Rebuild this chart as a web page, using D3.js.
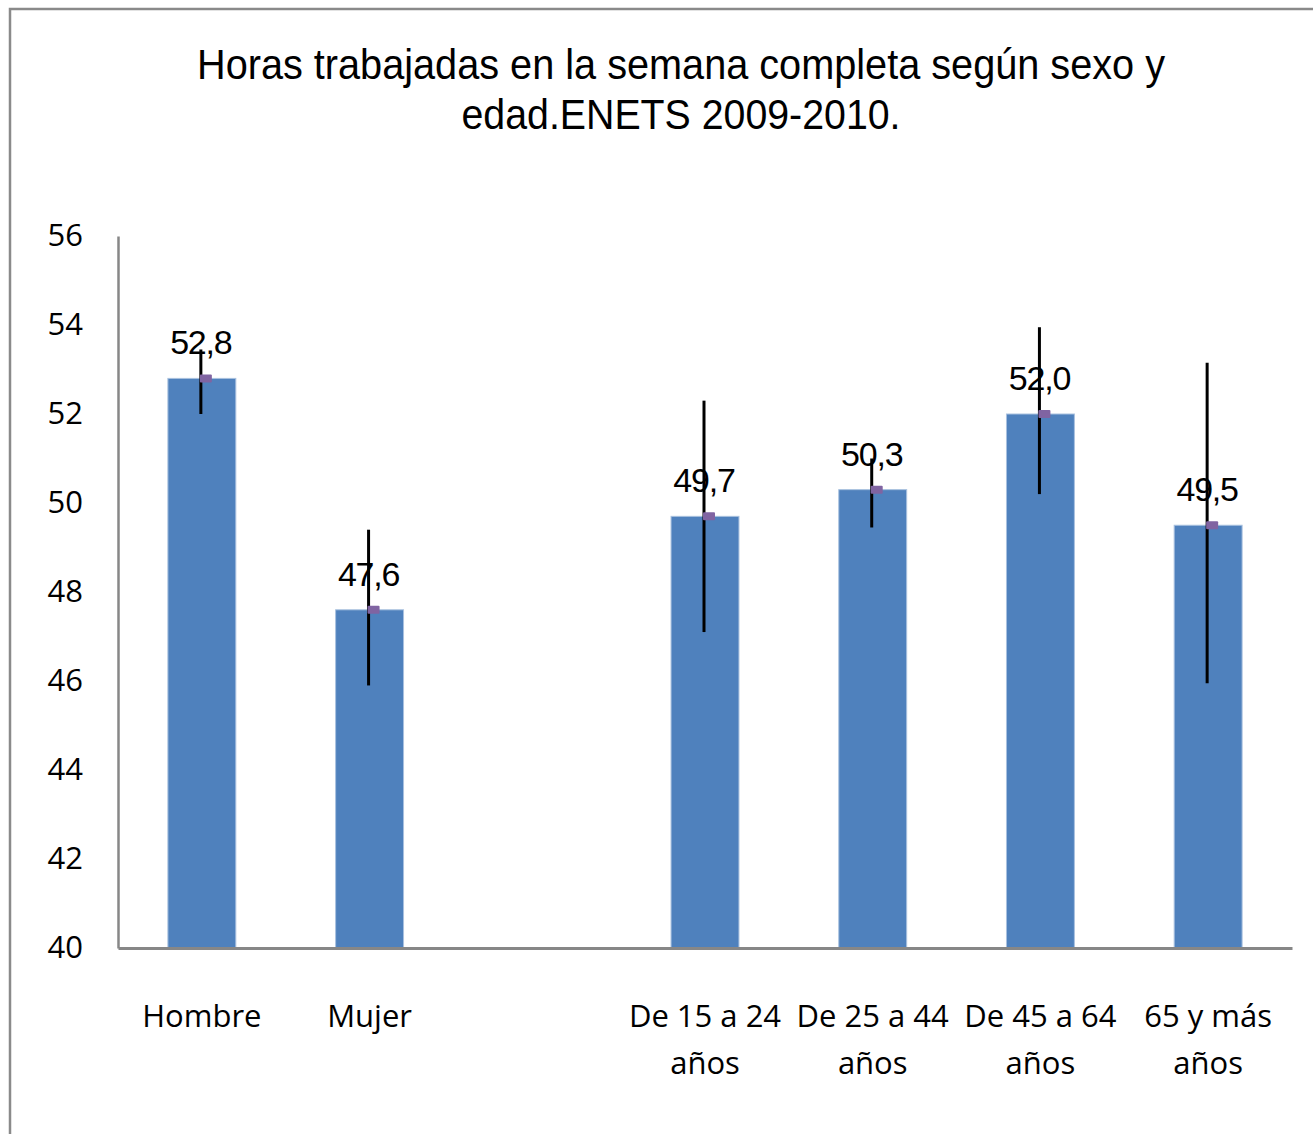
<!DOCTYPE html>
<html>
<head>
<meta charset="utf-8">
<script src="https://cdn.jsdelivr.net/npm/d3@7"></script>
<style>
  body { margin: 0; background: #fff; }
</style>
</head>
<body>
<div class="chart"></div>
<script>
// categories (the empty one is the gap between sexo and edad groups)
const categories = ["Hombre", "Mujer", "", "De 15 a 24 años", "De 25 a 44 años", "De 45 a 64 años", "65 y más años"];
const catLines = [["Hombre"], ["Mujer"], [], ["De 15 a 24", "años"], ["De 25 a 44", "años"], ["De 45 a 64", "años"], ["65 y más", "años"]];
const values = [52.8, 47.6, null, 49.7, 50.3, 52.0, 49.5];
const errLow = [52.0, 45.9, null, 47.1, 49.45, 50.2, 45.95];
const errHigh = [53.45, 49.4, null, 52.3, 51.0, 53.95, 53.15];
const yTicks = [40, 42, 44, 46, 48, 50, 52, 54, 56];
const titleLines = ["Horas trabajadas  en la semana completa según sexo y", "edad.ENETS 2009-2010."];

const W = 1313, H = 1134;
const plot = {left: 118, right: 1292, top: 236, bottom: 948};

const data = categories.map((c, i) => ({
    cat: c, key: "k" + i, lines: catLines[i],
    value: values[i], lo: errLow[i], hi: errHigh[i]
}));

const svg = d3.select(".chart").append("svg")
    .attr("width", W)
    .attr("height", H);

// outer chart border
svg.append("rect")
    .attr("x", 10).attr("y", 9)
    .attr("width", W + 20).attr("height", H + 20)
    .attr("fill", "#fff")
    .attr("stroke", "#8a8a8a")
    .attr("stroke-width", 2.5);

const x = d3.scaleBand()
    .domain(data.map(d => d.key))
    .range([plot.left, plot.right])
    .paddingInner(0.595)
    .paddingOuter(0.2975);

const y = d3.scaleLinear()
    .domain([40, 56])
    .range([plot.bottom, plot.top]);

// title
svg.selectAll(".title")
    .data(titleLines)
    .enter()
    .append("text")
    .attr("class", "title")
    .attr("x", 681)
    .attr("y", (d, i) => 79 + i * 50)
    .attr("text-anchor", "middle")
    .attr("font-family", "Liberation Sans, Arial, sans-serif")
    .attr("font-size", 43)
    .attr("textLength", (d, i) => i === 0 ? 968 : 439)
    .attr("lengthAdjust", "spacingAndGlyphs")
    .attr("fill", "#000")
    .text(d => d);

// y axis
const yAxis = d3.axisLeft(y)
    .tickValues(yTicks)
    .tickSize(0)
    .tickPadding(35);

const gy = svg.append("g")
    .attr("transform", `translate(${plot.left},0)`)
    .call(yAxis);
gy.select(".domain").attr("stroke", "#878787").attr("stroke-width", 2.5);
gy.selectAll("text")
    .attr("font-family", "Open Sans, sans-serif")
    .attr("font-size", 31)
    .attr("fill", "#000");

// bars
const bars = data.filter(d => d.value != null);

svg.selectAll(".bar")
    .data(bars)
    .enter()
    .append("rect")
    .attr("class", "bar")
    .attr("x", d => x(d.key))
    .attr("y", d => y(d.value))
    .attr("width", x.bandwidth())
    .attr("height", d => y(40) - y(d.value))
    .attr("fill", "#4f81bd")
    .attr("stroke", "#a9c1df")
    .attr("stroke-width", 1);

// x axis
const xAxis = d3.axisBottom(x).tickSize(0).tickFormat("");
const gx = svg.append("g")
    .attr("transform", `translate(0,${plot.bottom})`)
    .call(xAxis);
gx.select(".domain").attr("stroke", "#878787").attr("stroke-width", 3);

const xl = svg.selectAll(".xlabel")
    .data(data)
    .enter()
    .append("text")
    .attr("class", "xlabel")
    .attr("text-anchor", "middle")
    .attr("font-family", "Open Sans, sans-serif")
    .attr("font-size", 31)
    .attr("fill", "#000");
xl.selectAll("tspan")
    .data(d => d.lines.map(l => ({l: l, cx: x(d.key) + x.bandwidth() / 2})))
    .enter()
    .append("tspan")
    .attr("x", d => d.cx)
    .attr("y", (d, i) => plot.bottom + 79 + i * 47)
    .text(d => d.l);

// error bars
svg.selectAll(".err")
    .data(bars)
    .enter()
    .append("line")
    .attr("class", "err")
    .attr("x1", d => x(d.key) + x.bandwidth() / 2 - 1)
    .attr("x2", d => x(d.key) + x.bandwidth() / 2 - 1)
    .attr("y1", d => y(d.hi))
    .attr("y2", d => y(d.lo))
    .attr("stroke", "#000")
    .attr("stroke-width", 3);

// purple markers
svg.selectAll(".mark")
    .data(bars)
    .enter()
    .append("rect")
    .attr("class", "mark")
    .attr("x", d => x(d.key) + x.bandwidth() / 2 - 2)
    .attr("y", d => y(d.value) - 4)
    .attr("width", 12)
    .attr("height", 8)
    .attr("rx", 1)
    .attr("fill", "#8064a2");

// value labels
const fmt = v => d3.format(".1f")(v).replace(".", ",");
svg.selectAll(".vlabel")
    .data(bars)
    .enter()
    .append("text")
    .attr("class", "vlabel")
    .attr("x", d => x(d.key) + x.bandwidth() / 2 - 1)
    .attr("y", d => y(d.value) - 24)
    .attr("text-anchor", "middle")
    .attr("font-family", "Liberation Sans, Arial, sans-serif")
    .attr("font-size", 34)
    .attr("letter-spacing", -1.2)
    .attr("fill", "#000")
    .text(d => fmt(d.value));
</script>
</body>
</html>
